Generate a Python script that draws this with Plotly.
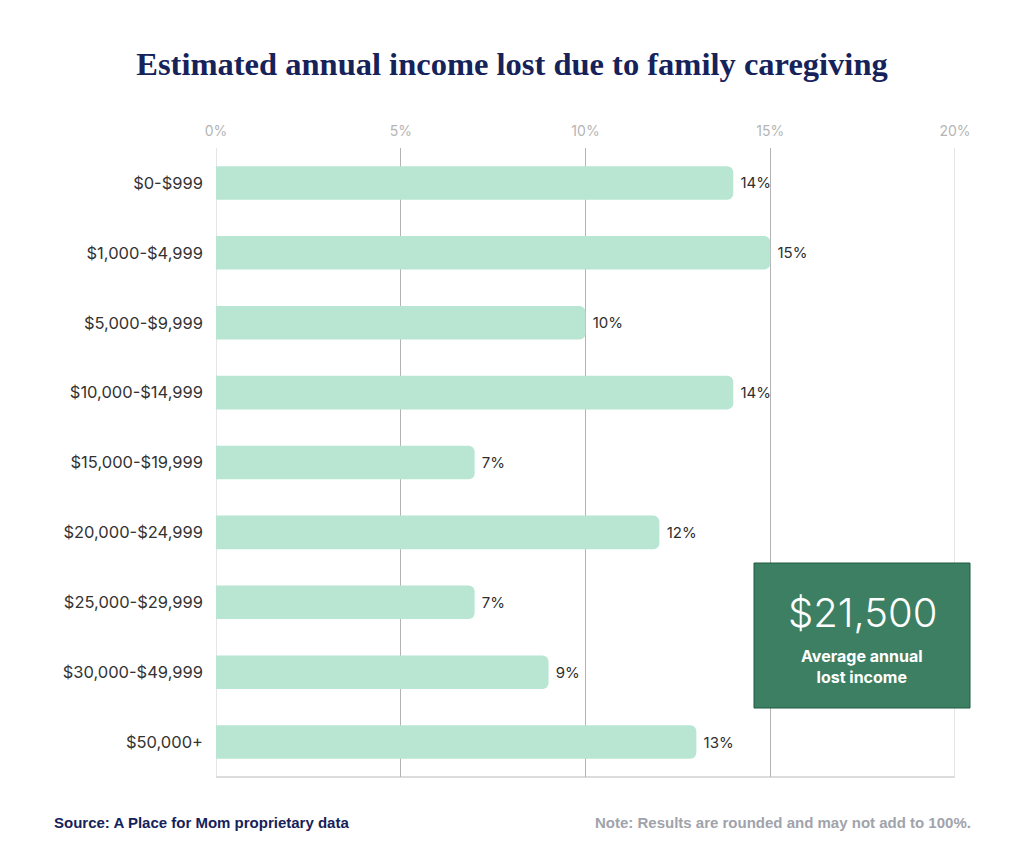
import plotly.graph_objects as go

# data
income_ranges = ['$0-$999', '$1,000-$4,999', '$5,000-$9,999', '$10,000-$14,999',
                 '$15,000-$19,999', '$20,000-$24,999', '$25,000-$29,999',
                 '$30,000-$49,999', '$50,000+']
share_pct = [14, 15, 10, 14, 7, 12, 7, 9, 13]
tick_vals = [0, 5, 10, 15, 20]
tick_text = ['0%', '5%', '10%', '15%', '20%']

avg_lost = '$21,500'
avg_label = 'Average annual<br>lost income'

navy = '#16225a'
mint = '#b8e6d2'
box_green = '#3d7f63'
grid = '#b3b3b3'
light_line = '#dcdcdc'
font = 'Inter'

# the page has an 8px body margin, so the figure is drawn 8px smaller
W, H = 1008, 850
L, R, T, B = 208, 61, 140, 81
pw, ph = W - L - R, H - T - B


def px_x(x):
    return (x - 8 - L) / pw


def px_y(y):
    return (H - B - (y - 8)) / ph


fig = go.Figure()

fig.add_trace(
    go.Bar(
        y=income_ranges,
        x=share_pct,
        orientation='h',
        width=0.48,
        marker=dict(color=mint, cornerradius=6, line=dict(width=0)),
        text=[f'\u00a0{v}%' for v in share_pct],
        textposition='outside',
        textfont=dict(family=font, size=15, color='#2e2e2e'),
        cliponaxis=False,
        hoverinfo='skip',
    )
)

fig.update_layout(
    width=W, height=H,
    margin=dict(l=L, r=R, t=T, b=B),
    plot_bgcolor='white', paper_bgcolor='white',
    showlegend=False,
    title=dict(text='<b>Estimated annual income lost due to family caregiving</b>',
               x=0.5, xanchor='center', y=1 - (64 - 8) / H, yanchor='middle',
               font=dict(family='Liberation Serif', size=32.5, color=navy)),
    xaxis=dict(range=[0, 20], side='top', tickvals=tick_vals, ticktext=tick_text,
               showgrid=True, gridcolor=grid, gridwidth=1, zeroline=False,
               ticks='', ticklabelstandoff=8,
               tickfont=dict(family=font, size=14, color='#b5b5b5')),
    yaxis=dict(categoryorder='array', categoryarray=income_ranges, autorange='reversed',
               ticks='', ticklabelstandoff=12, showgrid=False, zeroline=False,
               tickfont=dict(family=font, size=16.5, color='#333333')),
    font=dict(family=font),
)

# lighter edge lines at 0%, 20% and bottom
fig.add_shape(type='line', xref='x', yref='paper', x0=0, x1=0, y0=0, y1=1,
              line=dict(color=light_line, width=1.5), layer='below')
fig.add_shape(type='line', xref='x', yref='paper', x0=20, x1=20, y0=0, y1=1,
              line=dict(color=light_line, width=1.5), layer='below')
fig.add_shape(type='line', xref='paper', yref='paper', x0=0, x1=1, y0=0, y1=0,
              line=dict(color=light_line, width=2), layer='below')

# average box
fig.add_shape(type='rect', xref='paper', yref='paper',
              x0=px_x(754), x1=px_x(970), y0=px_y(708), y1=px_y(563),
              fillcolor=box_green, line=dict(color='#1f5d40', width=1), layer='above')
fig.add_annotation(xref='paper', yref='paper', x=px_x(862), y=px_y(612),
                   xanchor='center', yanchor='middle',
                   text=avg_lost, showarrow=False,
                   font=dict(family=font, size=40, color='white', weight=300))
fig.add_annotation(xref='paper', yref='paper', x=px_x(862), y=px_y(666),
                   xanchor='center', yanchor='middle',
                   text=f'<b>{avg_label}</b>', showarrow=False,
                   font=dict(family=font, size=16, color='white'))

# footer
fig.add_annotation(xref='paper', yref='paper', x=px_x(52), y=px_y(822),
                   xanchor='left', yanchor='middle', showarrow=False,
                   text='<b>Source: A Place for Mom proprietary data</b>',
                   font=dict(family='Liberation Sans Narrow, Liberation Sans', size=15, color=navy))
fig.add_annotation(xref='paper', yref='paper', x=px_x(973), y=px_y(822),
                   xanchor='right', yanchor='middle', showarrow=False,
                   text='<b>Note: Results are rounded and may not add to 100%.</b>',
                   font=dict(family='Liberation Sans Narrow, Liberation Sans', size=15, color='#a0a3ab'))

fig.write_html('out.html')
